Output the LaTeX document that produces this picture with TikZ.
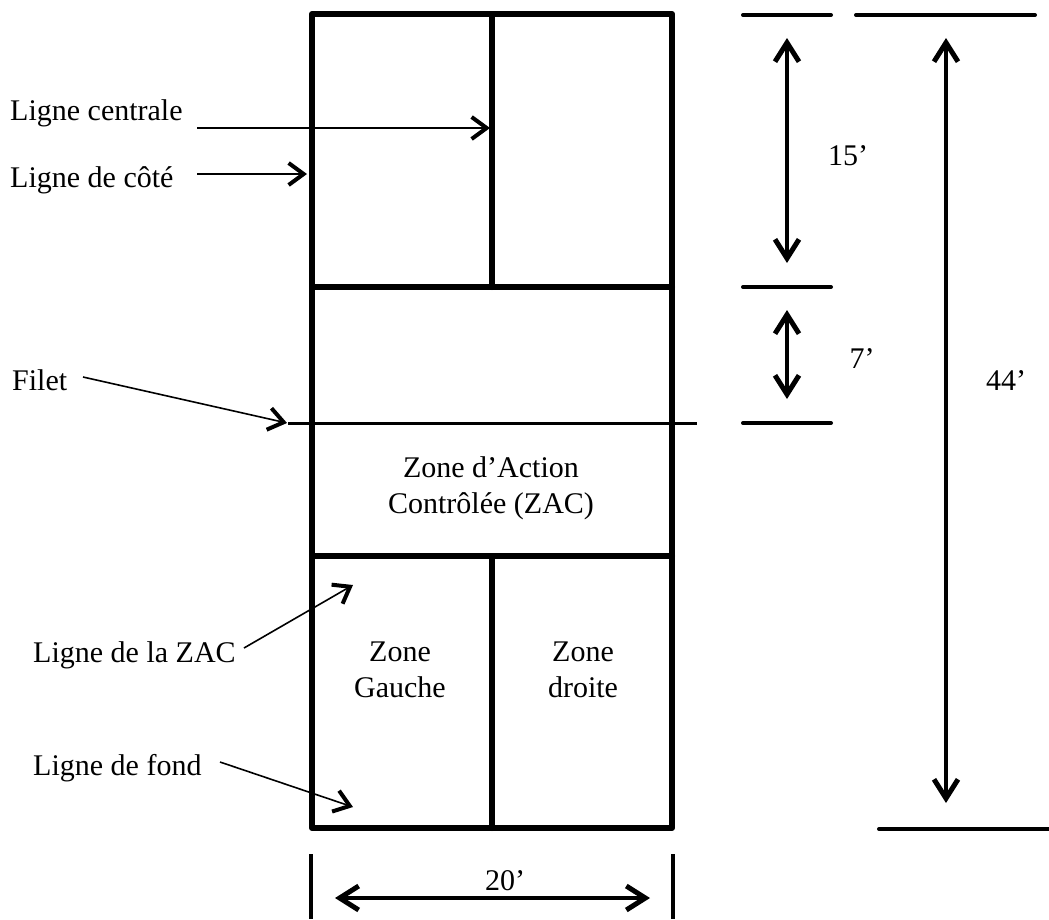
\documentclass[tikz,border=0pt]{standalone}
\usepackage{fontspec}
\setmainfont{Liberation Serif}
\usetikzlibrary{arrows.meta}
\begin{document}
\begin{tikzpicture}[x=1pt,y=-1pt,
  court/.style={line width=6pt,line cap=round,line join=round},
  netline/.style={line width=3pt},
  dimbar/.style={line width=4pt,line cap=round},
  dimarrow/.style={line width=4pt,{Straight Barb[length=19pt,width=24pt,line width=5pt]}-{Straight Barb[length=19pt,width=24pt,line width=5pt]}},
  ptr/.style={line width=1.6pt,-{Straight Barb[length=15pt,width=22pt,line width=4pt]}},
  lbl/.style={font=\fontsize{30}{36}\selectfont,inner sep=0pt},
  zone/.style={font=\fontsize{30}{36}\selectfont,align=center,inner sep=0pt}]
\useasboundingbox (0,0) rectangle (1049,919);
% court
\coordinate (tl) at (312,14);
\coordinate (br) at (672,828);
\draw[court] (tl) rectangle (br);
\draw[court] (312,287) -- (672,287);
\draw[court] (312,556) -- (672,556);
\draw[court] (492,14) -- (492,287);
\draw[court] (492,556) -- (492,828);
\coordinate (netL) at (288,423);
\coordinate (netR) at (697,423);
\draw[netline] (netL) -- (netR);
% zone texts
\node[zone] (zac) at (491,488) {Zone d’Action\\Contrôlée (ZAC)};
\node[zone] (zg) at (400,670) {Zone\\Gauche};
\node[zone] (zd) at (583,670) {Zone\\droite};
% left labels
\node[lbl,anchor=base west] (lcent) at (10,120) {Ligne centrale};
\node[lbl,anchor=base west] (lcote) at (10,187) {Ligne de côté};
\node[lbl,anchor=base west] (filet) at (12,390) {Filet};
\node[lbl,anchor=base west] (lzac) at (33,662) {Ligne de la ZAC};
\node[lbl,anchor=base west] (lfond) at (33,775) {Ligne de fond};
\coordinate (a1s) at (197,128); \coordinate (a1e) at (490,128);
\coordinate (a2s) at (197,174); \coordinate (a2e) at (307,174);
\coordinate (a3s) at (83,377);  \coordinate (a3e) at (287,423);
\coordinate (a4s) at (244,648); \coordinate (a4e) at (353,585);
\coordinate (a5s) at (220,762); \coordinate (a5e) at (353,807);
\draw[ptr] (a1s) -- (a1e);
\draw[ptr] (a2s) -- (a2e);
\draw[ptr] (a3s) -- (a3e);
\draw[ptr] (a4s) -- (a4e);
\draw[ptr] (a5s) -- (a5e);
% right dimensions
\draw[dimbar] (743,15) -- (831,15);
\draw[dimbar] (856,15) -- (1035,15);
\draw[dimbar] (743,287) -- (831,287);
\draw[dimbar] (743,423) -- (831,423);
\draw[dimbar] (879,829) -- (1049,829);
\coordinate (d1t) at (787,38); \coordinate (d1b) at (787,263);
\coordinate (d2t) at (787,310); \coordinate (d2b) at (787,399);
\coordinate (d3t) at (946,38); \coordinate (d3b) at (946,803);
\draw[dimarrow] (d1t) -- (d1b);
\draw[dimarrow] (d2t) -- (d2b);
\draw[dimarrow] (d3t) -- (d3b);
\node[lbl,anchor=base] (m15) at (848,165) {15’};
\node[lbl,anchor=base] (m7) at (862,368) {7’};
\node[lbl,anchor=base] (m44) at (1006,390) {44’};
% bottom dimension
\draw[dimbar,line cap=butt] (311,854) -- (311,919);
\draw[dimbar,line cap=butt] (673,854) -- (673,919);
\coordinate (d4l) at (335,898); \coordinate (d4r) at (650,898);
\draw[dimarrow] (d4l) -- (d4r);
\node[lbl,anchor=base] (m20) at (505,890) {20’};
\end{tikzpicture}
\end{document}
